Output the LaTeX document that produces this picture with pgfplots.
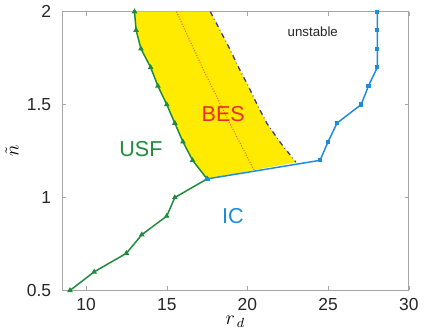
\documentclass[border=0pt]{standalone}
\usepackage{pgfplots}
\pgfplotsset{compat=1.18}
\usepackage{fontspec}
\setmainfont{Liberation Sans}
\definecolor{cgreen}{RGB}{30,140,60}
\definecolor{cblue}{RGB}{30,140,220}
\definecolor{cyellow}{RGB}{255,235,0}
\definecolor{cred}{RGB}{235,45,45}
\definecolor{cnavy}{RGB}{60,60,160}
\begin{document}
\begin{tikzpicture}
\begin{axis}[
  scale only axis,
  width=209pt, height=168pt,
  xmin=8.5, xmax=30, ymin=0.5, ymax=2,
  xtick={10,15,20,25,30}, ytick={0.5,1,1.5,2},
  tick align=inside,
  axis line style={gray!70},
  tick style={gray!70},
  major tick length=2.5pt,
  /pgf/number format/assume math mode=true,
  ticklabel style={font=\fontsize{10.5}{12}\selectfont, text=black!85},
  yticklabel style={xshift=-3pt},
  xticklabel style={yshift=-1.5pt},
  xlabel={$r_{\,d}$}, ylabel={$\tilde{n}$},
  xlabel style={font=\large, yshift=4pt},
  ylabel style={font=\large, yshift=-2pt},
  clip=true,
]
% yellow BES region
\addplot[fill=cyellow, draw=none] coordinates {
 (13,2) (13.1,1.9) (13.4,1.8) (14,1.7) (14.45,1.6) (15,1.5) (15.5,1.4) (16,1.3) (16.6,1.2) (17.5,1.1)
 (23,1.19) (22,1.3) (21.2,1.4) (20.6,1.5) (20.05,1.6) (19.45,1.7) (18.9,1.8) (18.3,1.9) (17.7,2)
} -- cycle;
% red dotted center line
\addplot[cred!80, densely dotted, line width=0.6pt] coordinates {
 (15.6,2) (17.2,1.7) (18.9,1.4) (20.4,1.15)
};
% navy dash-dot boundary
\addplot[cnavy, dash dot, line width=0.8pt] coordinates {
 (17.7,2) (18.3,1.9) (18.9,1.8) (19.45,1.7) (20.05,1.6) (20.6,1.5) (21.2,1.4) (22,1.3) (23,1.19)
};
% green lower
\addplot[cgreen, line width=0.9pt, mark=triangle*, mark size=1.1pt] coordinates {
 (9,0.5) (10.5,0.6) (12.5,0.7) (13.45,0.8) (15,0.9) (15.5,1.0) (17.5,1.1)
};
% green upper (USF)
\addplot[cgreen, line width=0.9pt, mark=triangle*, mark size=1.1pt] coordinates {
 (13,2) (13.1,1.9) (13.4,1.8) (14,1.7) (14.45,1.6) (15,1.5) (15.5,1.4) (16,1.3) (16.6,1.2) (17.5,1.1)
};
% blue
\addplot[cblue, line width=0.9pt, mark=square*, mark size=0.8pt] coordinates {
 (17.5,1.1) (24.5,1.2) (25,1.3) (25.55,1.4) (27.05,1.5) (27.5,1.6) (28.05,1.7) (28.05,1.8) (28.05,1.9) (28.05,2)
};
\node[font=\fontsize{8}{9}\selectfont, text=black!85] at (axis cs:24.05,1.89) {unstable};
\node[font=\fontsize{13}{15}\selectfont, text=cred] at (axis cs:18.5,1.45) {BES};
\node[font=\fontsize{13}{15}\selectfont, text=cgreen] at (axis cs:13.4,1.26) {USF};
\node[font=\fontsize{13}{15}\selectfont, text=cblue] at (axis cs:19.1,0.9) {IC};
\end{axis}
\end{tikzpicture}
\end{document}
